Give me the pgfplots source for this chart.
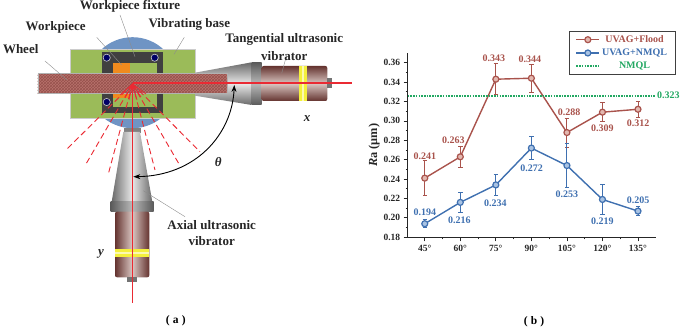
\documentclass[border=0pt]{standalone}
\usepackage{fontspec}
\setmainfont{Liberation Serif}
\usepackage{pgfplots}
\pgfplotsset{compat=1.18}
\usetikzlibrary{patterns,arrows.meta}
\definecolor{flood}{HTML}{A9534C}
\definecolor{floodfill}{HTML}{E3B8B0}
\definecolor{nmql}{HTML}{3F70B0}
\definecolor{nmqlfill}{HTML}{A9C3E3}
\definecolor{grn}{HTML}{22A862}
\definecolor{base}{HTML}{9BBB59}
\definecolor{disc}{HTML}{6F94C4}
\definecolor{frame}{HTML}{404040}
\definecolor{org}{HTML}{F08A1E}
\definecolor{rd}{HTML}{EA2A33}
\definecolor{brn}{HTML}{64332F}
\definecolor{brnl}{HTML}{D9C6C2}
\definecolor{yel}{HTML}{F4F03C}
\definecolor{hd}{HTML}{6A6A6A}
\definecolor{hl}{HTML}{E8E8E8}
\definecolor{bd}{HTML}{5A5A5A}
\definecolor{bl}{HTML}{B8B8B8}
\definecolor{whl}{HTML}{B9726C}
\definecolor{whp}{HTML}{96524D}
\pgfdeclareverticalshading{hornv}{100bp}{color(0bp)=(hd); color(25bp)=(hd); color(50bp)=(hl); color(75bp)=(hd); color(100bp)=(hd)}
\pgfdeclarehorizontalshading{hornh}{100bp}{color(0bp)=(hd); color(25bp)=(hd); color(50bp)=(hl); color(75bp)=(hd); color(100bp)=(hd)}
\pgfdeclareverticalshading{bandv}{100bp}{color(0bp)=(bd); color(25bp)=(bd); color(50bp)=(bl); color(75bp)=(bd); color(100bp)=(bd)}
\pgfdeclarehorizontalshading{bandh}{100bp}{color(0bp)=(bd); color(25bp)=(bd); color(50bp)=(bl); color(75bp)=(bd); color(100bp)=(bd)}
\pgfdeclareverticalshading{bodyv}{100bp}{color(0bp)=(brn); color(25bp)=(brn); color(50bp)=(brnl); color(75bp)=(brn); color(100bp)=(brn)}
\pgfdeclarehorizontalshading{bodyh}{100bp}{color(0bp)=(brn); color(25bp)=(brn); color(50bp)=(brnl); color(75bp)=(brn); color(100bp)=(brn)}
\begin{document}
\begin{tikzpicture}
\path[use as bounding box] (0,0) rectangle (685pt,329pt);
\begin{scope}[x=1pt,y=-1pt,yshift=329pt]
 % disc and base
 \fill[disc] (132.5,82.7) circle (45.5);
 \draw[gray!40,fill=base,line width=0.5pt] (70,49.3) rectangle (195,118.3);
 \fill[frame] (101.7,51.7) rectangle (163.3,113.3);
 \fill[base] (113,63.3) rectangle (157.3,107.3);
 \fill[org] (113,63.3) rectangle (129.7,75);
 \fill[org] (113,93) rectangle (129.7,98.3);
 \foreach \p in {(106.7,57.7),(154.7,57.7),(106.7,102)}
   \draw[gray!40,fill=blue!40!black,line width=0.6pt] \p circle (3.6);
 % tangential horn
 \shade[shading=hornv] (195,72.7) -- (251.7,62.3) -- (251.7,105) -- (195,95.7) -- cycle;
 \shade[shading=bandv] (251.7,62.3) rectangle (261.7,105);
 \shade[shading=bodyv,rounded corners=2pt]
   (261.7,66) -- (327.3,66) -- (327.3,101) -- (261.7,101) -- cycle;
 \fill[yel] (299.3,66) rectangle (306.7,101);
 \fill[white!60!yel] (302.4,66) rectangle (303.6,101);
 \fill[black!55] (327.3,78.3) rectangle (332,88.3);
 % wheel
 \fill[whl] (37.7,73.3) rectangle (226.7,93.7);
 \fill[pattern=crosshatch,pattern color=whp] (37.7,73.3) rectangle (226.7,93.7);
 \draw[gray!60,line width=0.4pt] (37.7,73.3) rectangle (226.7,93.7);
 % rays
 \begin{scope}[rd,line width=0.9pt]
  \foreach \e in {(66,150),(85,165.7),(108.3,174),(155,170),(180,165.7),(200,151.7)}
    \draw[dash pattern=on 6pt off 3.5pt] (132.5,84) -- \e;
  \foreach \e in {(120,95),(125,98),(129,100),(137,100),(141,97),(146,94)}
    \draw[line width=0.7pt] (132.5,84) -- \e;
 \end{scope}
 % axial horn
 \fill[black!50] (124,128.3) rectangle (141,133);
 \shade[shading=hornh] (123.3,132) -- (140,132) -- (152.3,201.7) -- (111.7,201.7) -- cycle;
 \shade[shading=bandh] (110.5,201.7) rectangle (153.5,211.7);
 \shade[shading=bodyh,rounded corners=2pt]
   (115,211.7) -- (149.3,211.7) -- (149.3,277.3) -- (115,277.3) -- cycle;
 \fill[yel] (115,249.3) rectangle (149.3,256.7);
 \fill[white!60!yel] (115,252.4) rectangle (149.3,253.6);
 \fill[black!55] (127,277.3) rectangle (137,282);
 % axes lines
 \fill[rd] (132.5,82.5) rectangle (352,84.1);
 \fill[rd] (131.7,83.3) rectangle (132.9,303.3);
 % arc
 \draw[black,line width=0.9pt,{Stealth[length=7pt,width=5pt]}-{Stealth[length=7pt,width=5pt]}]
   (234.3,85) .. controls (232,135) and (195,176) .. (133.3,176.7);
 % leaders
 \begin{scope}[black!45,line width=0.4pt]
  \draw (45,61) -- (67,80);
  \draw (96.7,37.3) -- (121.7,65);
  \draw (120,15) -- (135,56.7);
  \draw (184.3,37.3) -- (174,54.3);
  \draw (286.7,55) -- (281.7,73.3);
  \draw (185,216.7) -- (143.3,190.7);
 \end{scope}
 % text
 \begin{scope}[every node/.style={font=\fontsize{13}{15}\selectfont\bfseries,text=black!85,inner sep=0pt}]
  \node at (130,6.5) {Workpiece fixture};
  \node at (55.7,27.3) {Workpiece};
  \node at (189.3,24) {Vibrating base};
  \node at (20.7,49) {Wheel};
  \node at (284.3,39.3) {Tangential ultrasonic};
  \node at (284.3,55.7) {vibrator};
  \node at (211.7,225.3) {Axial ultrasonic};
  \node at (211.7,241) {vibrator};
  \node at (307,118.3) {\itshape x};
  \node at (218.3,161.7) {\itshape θ};
  \node at (101,254.3) {\itshape y};
 \end{scope}
 \node[font=\fontsize{11.5}{13}\selectfont\bfseries] at (175.7,321) {(\;a\;)};
 \node[font=\fontsize{11.5}{13}\selectfont\bfseries] at (534,321.7) {(\;b\;)};
\end{scope}
\begin{axis}[
  at={(407.7pt,91.7pt)},anchor=south west,
  width=248.3pt,height=184pt,scale only axis,
  xmin=37.8,xmax=142.6,ymin=0.18,ymax=0.3697,
  axis x line=bottom,axis y line=left,
  axis line style={-,line width=1pt,black!85},
  clip=false,
  xtick={45,60,75,90,105,120,135},
  xticklabels={45°,60°,75°,90°,105°,120°,135°},
  ytick={0.18,0.20,0.22,0.24,0.26,0.28,0.30,0.32,0.34,0.36},
  minor x tick num=1,minor y tick num=1,
  major tick length=4pt,minor tick length=2.2pt,
  tick style={line width=0.8pt,black!85},
  tick align=outside,
  tick label style={font=\fontsize{9.5}{11}\selectfont\bfseries,text=black!85},
  y tick label style={/pgf/number format/.cd,fixed,fixed zerofill,precision=2,assume math mode=true},
  ylabel={\textit{R}a (μm)},
  ylabel style={font=\fontsize{12.3}{14}\selectfont\bfseries,text=black!85,at={(axis description cs:-0.135,0.5)},anchor=center},
  legend style={at={(1.0805,1.121)},anchor=north east,draw=black!75,line width=0.9pt,
    font=\fontsize{10}{12}\selectfont\bfseries,inner xsep=6.5pt,inner ysep=2pt,row sep=1pt,
    fill=white},
  legend cell align=center,
  legend image code/.code={\draw[mark repeat=2,mark phase=2,#1] plot coordinates {(0cm,0cm) (0.4cm,0cm) (0.8cm,0cm)};},
  error bars/error bar style={line width=0.9pt},
  error bars/error mark options={rotate=90,mark size=2.2pt,line width=0.9pt},
]
\addplot[flood,line width=1.4pt,mark=*,mark size=3pt,
  mark options={draw=flood,fill=floodfill,line width=1.2pt},
  error bars/.cd,y dir=both,y explicit] coordinates {
  (45,0.241) +- (0,0.018)
  (60,0.263) +- (0,0.011)
  (75,0.343) +- (0,0.016)
  (90,0.344) +- (0,0.0145)
  (105,0.288) +- (0,0.015)
  (120,0.309) +- (0,0.010)
  (135,0.312) +- (0,0.008)
};
\addlegendentry{\textcolor{flood}{UVAG+Flood}}
\addplot[nmql,line width=1.4pt,mark=*,mark size=3pt,
  mark options={draw=nmql,fill=nmqlfill,line width=1.2pt},
  error bars/.cd,y dir=both,y explicit] coordinates {
  (45,0.194) +- (0,0.004)
  (60,0.216) +- (0,0.010)
  (75,0.234) +- (0,0.011)
  (90,0.272) +- (0,0.012)
  (105,0.254) +- (0,0.023)
  (120,0.219) +- (0,0.015)
  (135,0.207) +- (0,0.0045)
};
\addlegendentry{\textcolor{nmql}{UVAG+NMQL}}
\addplot[grn,line width=1.7pt,dash pattern=on 1.6pt off 1.1pt] coordinates {(37.8,0.326) (142.6,0.326)};
\addlegendentry{\textcolor{grn}{NMQL}}
\begin{scope}[every node/.style={font=\fontsize{10}{12}\selectfont\bfseries,inner sep=0pt}]
 \node[text=flood] at (axis cs:45,0.2638) {0.241};
 \node[text=flood] at (axis cs:57.1,0.2797) {0.263};
 \node[text=flood] at (axis cs:74.2,0.3642) {0.343};
 \node[text=flood] at (axis cs:89.4,0.3639) {0.344};
 \node[text=flood] at (axis cs:105.9,0.3085) {0.288};
 \node[text=flood] at (axis cs:120,0.2924) {0.309};
 \node[text=flood] at (axis cs:135,0.2975) {0.312};
 \node[text=nmql] at (axis cs:45,0.2058) {0.194};
 \node[text=nmql] at (axis cs:59.6,0.1979) {0.216};
 \node[text=nmql] at (axis cs:74.8,0.2151) {0.234};
 \node[text=nmql] at (axis cs:90.1,0.2508) {0.272};
 \node[text=nmql] at (axis cs:105,0.2243) {0.253};
 \node[text=nmql] at (axis cs:120,0.1965) {0.219};
 \node[text=nmql] at (axis cs:135,0.2185) {0.205};
 \node[text=grn] at (axis cs:147.8,0.326) {0.323};
\end{scope}
\end{axis}
\end{tikzpicture}
\end{document}
